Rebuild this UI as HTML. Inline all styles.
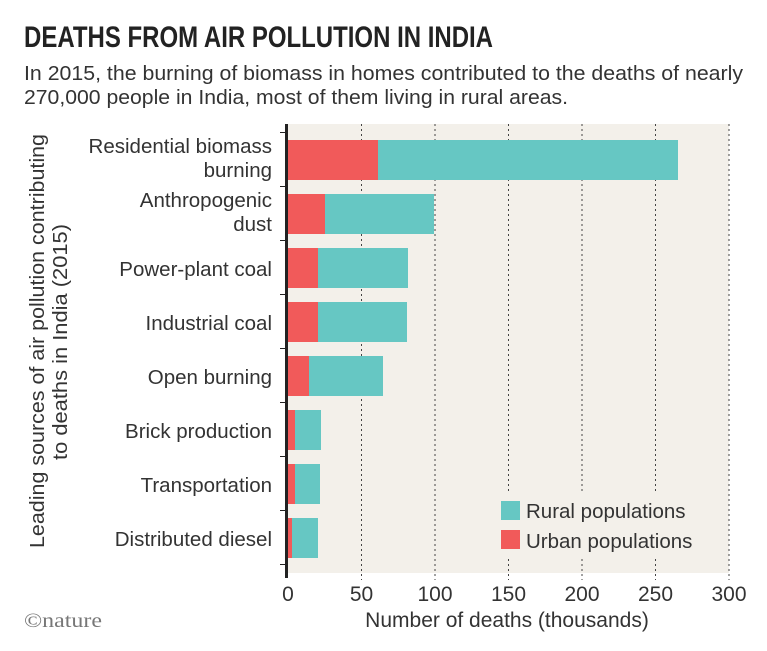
<!DOCTYPE html>
<html><head><style>
html,body{margin:0;padding:0;background:#fff;}
svg{display:block;font-family:"Liberation Sans",sans-serif;}
</style></head><body>
<svg width="767" height="651" viewBox="0 0 767 651">
<text x="24" y="47" font-size="30" font-weight="bold" fill="#222" textLength="469" lengthAdjust="spacingAndGlyphs">DEATHS FROM AIR POLLUTION IN INDIA</text>
<text x="24" y="80" font-size="20" fill="#333" textLength="719" lengthAdjust="spacingAndGlyphs">In 2015, the burning of biomass in homes contributed to the deaths of nearly</text>
<text x="24" y="104" font-size="20" fill="#333" textLength="544" lengthAdjust="spacingAndGlyphs">270,000 people in India, most of them living in rural areas.</text>
<rect x="288" y="124" width="441" height="449" fill="#f3f0ea"/>
<g stroke="#444" stroke-width="1" stroke-dasharray="2,3">
<line x1="361.5" y1="124" x2="361.5" y2="580"/>
<line x1="435" y1="124" x2="435" y2="580"/>
<line x1="508.5" y1="124" x2="508.5" y2="580"/>
<line x1="582" y1="124" x2="582" y2="580"/>
<line x1="655.5" y1="124" x2="655.5" y2="580"/>
<line x1="729" y1="124" x2="729" y2="580"/>
</g>
<rect x="494" y="494" width="204" height="62" fill="#f3f0ea"/>
<g>
<rect x="288" y="140" width="90" height="40" fill="#f15a5a"/><rect x="378" y="140" width="300" height="40" fill="#66c7c3"/>
<rect x="288" y="194" width="37" height="40" fill="#f15a5a"/><rect x="325" y="194" width="109" height="40" fill="#66c7c3"/>
<rect x="288" y="248" width="30" height="40" fill="#f15a5a"/><rect x="318" y="248" width="90" height="40" fill="#66c7c3"/>
<rect x="288" y="302" width="30" height="40" fill="#f15a5a"/><rect x="318" y="302" width="89" height="40" fill="#66c7c3"/>
<rect x="288" y="356" width="21" height="40" fill="#f15a5a"/><rect x="309" y="356" width="74" height="40" fill="#66c7c3"/>
<rect x="288" y="410" width="7" height="40" fill="#f15a5a"/><rect x="295" y="410" width="26" height="40" fill="#66c7c3"/>
<rect x="288" y="464" width="7" height="40" fill="#f15a5a"/><rect x="295" y="464" width="25" height="40" fill="#66c7c3"/>
<rect x="288" y="518" width="4" height="40" fill="#f15a5a"/><rect x="292" y="518" width="26" height="40" fill="#66c7c3"/>
</g>
<line x1="286.5" y1="124" x2="286.5" y2="578" stroke="#222" stroke-width="3"/>
<g stroke="#222" stroke-width="1">
<line x1="280" y1="132.5" x2="286" y2="132.5"/><line x1="280" y1="186.5" x2="286" y2="186.5"/>
<line x1="280" y1="240.5" x2="286" y2="240.5"/><line x1="280" y1="294.5" x2="286" y2="294.5"/>
<line x1="280" y1="348.5" x2="286" y2="348.5"/><line x1="280" y1="402.5" x2="286" y2="402.5"/>
<line x1="280" y1="456.5" x2="286" y2="456.5"/><line x1="280" y1="510.5" x2="286" y2="510.5"/>
<line x1="280" y1="564.5" x2="286" y2="564.5"/>
</g>
<g font-size="20.5" fill="#333" text-anchor="end">
<text x="272" y="153">Residential biomass</text>
<text x="272" y="177">burning</text>
<text x="272" y="207">Anthropogenic</text>
<text x="272" y="231">dust</text>
<text x="272" y="276">Power-plant coal</text>
<text x="272" y="330">Industrial coal</text>
<text x="272" y="384">Open burning</text>
<text x="272" y="438">Brick production</text>
<text x="272" y="492">Transportation</text>
<text x="272" y="546">Distributed diesel</text>
</g>
<g font-size="20.5" fill="#333" transform="rotate(-90)">
<text x="-548" y="44" textLength="414" lengthAdjust="spacingAndGlyphs">Leading sources of air pollution contributing</text>
<text x="-460" y="67" textLength="236" lengthAdjust="spacingAndGlyphs">to deaths in India (2015)</text>
</g>
<g font-size="21" fill="#333" text-anchor="middle">
<text x="288" y="601">0</text><text x="361.5" y="601">50</text><text x="435" y="601">100</text>
<text x="508.5" y="601">150</text><text x="582" y="601">200</text><text x="655.5" y="601">250</text>
<text x="729" y="601">300</text>
<text x="507" y="627">Number of deaths (thousands)</text>
</g>
<text x="24" y="627" font-size="20" fill="#777" font-family="Liberation Serif,serif" textLength="78" lengthAdjust="spacingAndGlyphs">©nature</text>
<rect x="501" y="501" width="19" height="19" fill="#66c7c3"/>
<rect x="501" y="530" width="19" height="19" fill="#f15a5a"/>
<text x="526" y="518" font-size="20.5" fill="#333">Rural populations</text>
<text x="526" y="548" font-size="20.5" fill="#333">Urban populations</text>
</svg>
</body></html>
